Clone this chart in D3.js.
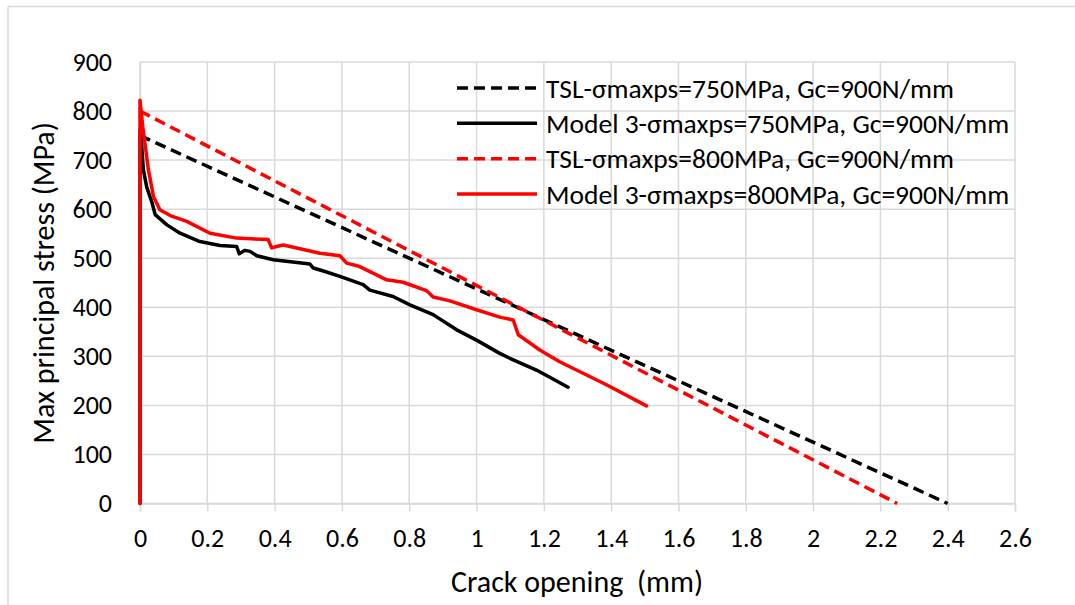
<!DOCTYPE html>
<html>
<head>
<meta charset="utf-8">
<script src="https://cdn.jsdelivr.net/npm/d3@7"></script>
<style>
  html, body { margin: 0; padding: 0; background: #fff; }
  svg { display: block; font-family: Carlito, Calibri, "Open Sans", sans-serif; }
</style>
</head>
<body>
<svg id="chart" width="1075" height="605"></svg>
<script>
// Axis ticks
const xTicks = [0, 0.2, 0.4, 0.6, 0.8, 1, 1.2, 1.4, 1.6, 1.8, 2, 2.2, 2.4, 2.6];
const yTicks = [0, 100, 200, 300, 400, 500, 600, 700, 800, 900];

// Traction-separation laws (linear softening)
const tsl750 = [[0, 750], [2.4, 0]];
const tsl800 = [[0, 800], [2.25, 0]];

// Model 3 responses: crack opening (mm), max principal stress (MPa)
const model750 = [
  [0, 0], [0, 762], [0.004, 740], [0.01, 680], [0.02, 645], [0.035, 615], [0.045, 589],
  [0.08, 568], [0.119, 551], [0.178, 534], [0.238, 526], [0.287, 524],
  [0.295, 509], [0.312, 516], [0.327, 514], [0.347, 505], [0.396, 497],
  [0.505, 488], [0.515, 480], [0.545, 474], [0.594, 463], [0.663, 446],
  [0.683, 435], [0.752, 422], [0.802, 405], [0.871, 385], [0.941, 354],
  [1.0, 333], [1.069, 306], [1.099, 296], [1.178, 272], [1.272, 237]
];
const model800 = [
  [0, 0], [0, 822], [0.008, 769], [0.025, 680], [0.04, 626], [0.059, 599],
  [0.09, 587], [0.139, 575], [0.208, 551], [0.287, 541], [0.381, 538],
  [0.391, 521], [0.406, 524], [0.426, 527], [0.535, 510], [0.594, 505],
  [0.614, 490], [0.653, 483], [0.733, 456], [0.782, 451], [0.851, 434],
  [0.871, 421], [0.921, 413], [1.0, 395], [1.069, 380], [1.109, 374],
  [1.124, 344], [1.188, 313], [1.247, 289], [1.386, 242], [1.505, 199]
];

const seriesNames = [
  "TSL-σmaxps=750MPa, Gc=900N/mm",
  "Model 3-σmaxps=750MPa, Gc=900N/mm",
  "TSL-σmaxps=800MPa, Gc=900N/mm",
  "Model 3-σmaxps=800MPa, Gc=900N/mm"
];
const seriesData = [tsl750, model750, tsl800, model800];
const seriesColors = ["#000000", "#000000", "#ff0000", "#ff0000"];
const seriesDashed = [true, false, true, false];

const svg = d3.select("#chart");
const W = 1075, H = 605;
const plot = { left: 140, right: 1015, top: 62, bottom: 503.5 };

const x = d3.scaleLinear().domain([0, 2.6]).range([plot.left, plot.right]);
const y = d3.scaleLinear().domain([0, 900]).range([plot.bottom, plot.top]);

const gridColor = "#d9d9d9";
const fontFamily = "Carlito, Calibri, 'Open Sans', sans-serif";

// Outer chart frame (top and left edges)
svg.append("line").attr("x1", 8).attr("x2", W).attr("y1", 6.5).attr("y2", 6.5)
  .attr("stroke", "#d9d9d9").attr("stroke-width", 1.5);
svg.append("line").attr("x1", 8).attr("x2", 8).attr("y1", 6.5).attr("y2", H)
  .attr("stroke", "#d9d9d9").attr("stroke-width", 1.5);

// Gridlines
const grid = svg.append("g");
grid.selectAll("line.h").data(yTicks).join("line")
  .attr("x1", plot.left).attr("x2", plot.right)
  .attr("y1", d => y(d)).attr("y2", d => y(d))
  .attr("stroke", gridColor).attr("stroke-width", 1.5);
grid.selectAll("line.v").data(xTicks).join("line")
  .attr("x1", d => x(d)).attr("x2", d => x(d))
  .attr("y1", plot.top).attr("y2", plot.bottom)
  .attr("stroke", gridColor).attr("stroke-width", 1.5);

// X axis
const xAxis = svg.append("g")
  .attr("transform", `translate(0,${plot.bottom})`)
  .call(d3.axisBottom(x).tickValues(xTicks).tickFormat(d => String(d)).tickSize(8).tickPadding(17));
xAxis.select(".domain").attr("stroke", gridColor).attr("stroke-width", 1.5);
xAxis.selectAll(".tick line").attr("stroke", gridColor).attr("stroke-width", 1.5);
xAxis.selectAll(".tick text").attr("fill", "#000").style("font-size", "26px")
  .style("font-family", fontFamily);

// Y axis
const yAxis = svg.append("g")
  .attr("transform", `translate(${plot.left},0)`)
  .call(d3.axisLeft(y).tickValues(yTicks).tickFormat(d => String(d)).tickSize(0).tickPadding(28));
yAxis.select(".domain").attr("stroke", gridColor).attr("stroke-width", 1.5);
yAxis.selectAll(".tick text").attr("fill", "#000").style("font-size", "26px")
  .style("font-family", fontFamily);

// Axis titles
svg.append("text")
  .attr("x", 577).attr("y", 592)
  .attr("text-anchor", "middle")
  .style("font-size", "30px").style("white-space", "pre").attr("fill", "#000")
  .text("Crack opening  (mm)");
svg.append("text")
  .attr("transform", "translate(54,283) rotate(-90)")
  .attr("text-anchor", "middle")
  .style("font-size", "30px").attr("fill", "#000")
  .text("Max principal stress (MPa)");

// Series lines
const line = d3.line().x(d => x(d[0])).y(d => y(d[1]));
const lines = svg.append("g");
seriesData.forEach((data, i) => {
  lines.append("path")
    .datum(data)
    .attr("d", line)
    .attr("fill", "none")
    .attr("stroke", seriesColors[i])
    .attr("stroke-width", 3.5)
    .attr("stroke-linejoin", "round")
    .attr("stroke-linecap", seriesDashed[i] ? "butt" : "round")
    .attr("stroke-dasharray", seriesDashed[i] ? "11,6" : null);
});

// Legend
const legend = svg.append("g");
const legendRows = [88, 123.3, 158.7, 194];
seriesNames.forEach((name, i) => {
  const g = legend.append("g").attr("transform", `translate(0,${legendRows[i]})`);
  g.append("line")
    .attr("x1", 457).attr("x2", 537).attr("y1", 0).attr("y2", 0)
    .attr("stroke", seriesColors[i]).attr("stroke-width", 3.5)
    .attr("stroke-dasharray", seriesDashed[i] ? "11,6" : null);
  g.append("text")
    .attr("x", 546).attr("y", 0).attr("dy", "0.35em")
    .style("font-size", "27.5px").attr("fill", "#000")
    .text(name);
});
</script>
</body>
</html>
